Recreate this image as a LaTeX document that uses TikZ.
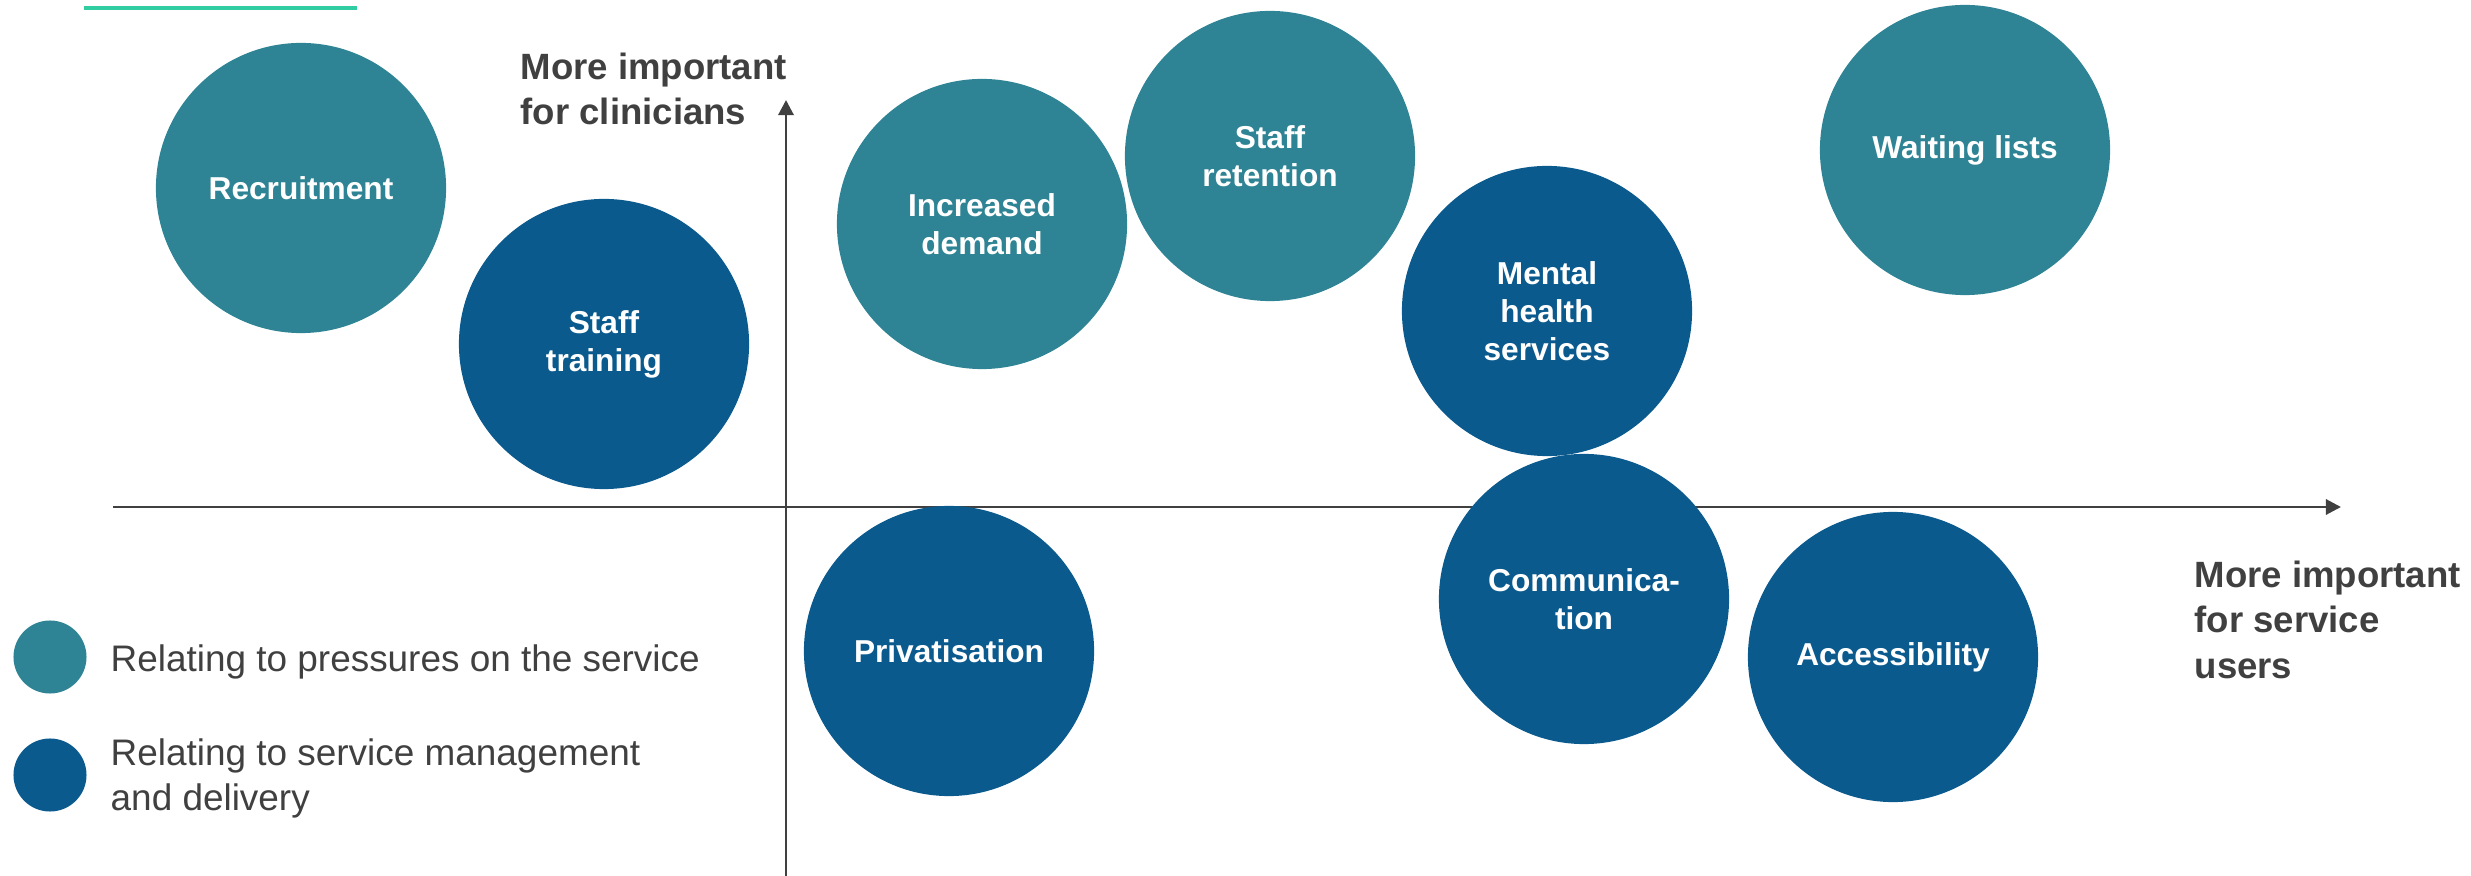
\documentclass[tikz,border=0pt]{standalone}
\usepackage{fontspec}
\setmainfont{Liberation Sans}
\usetikzlibrary{arrows.meta}
\definecolor{bubTeal}{HTML}{2E8494}
\definecolor{bubBlue}{HTML}{0B5A8E}
\definecolor{axGray}{HTML}{404040}
\definecolor{lineMint}{HTML}{30CCA2}

\begin{document}
\begin{tikzpicture}[
  x=0.01cm, y=-0.01cm,
  bubble/.style={
    circle, fill=#1, minimum size=2.9cm, inner sep=0pt,
    text=white, font=\fontsize{9}{10.8}\selectfont\bfseries, align=center,
  },
  keydot/.style={circle, fill=#1, minimum size=0.73cm, inner sep=0pt},
  axis/.style={-{Triangle[length=4.3pt, width=4.3pt]}, line width=0.85pt, color=axGray},
  axlab/.style={font=\fontsize{10.4}{13}\selectfont\bfseries, text=axGray, align=left, inner sep=0pt},
  keylab/.style={font=\fontsize{10.5}{12.7}\selectfont, text=axGray, align=left, inner sep=0pt},
]
\useasboundingbox (0,0) rectangle (2471,876);

% Accent rule
\draw[lineMint, line width=1pt] (84,8) -- (357,8);

% Axes
\coordinate (xs) at (113,507);
\coordinate (xe) at (2341,507);
\coordinate (ys) at (786,876);
\coordinate (ye) at (786,100);
\draw[axis] (xs) -- (xe);
\draw[axis] (ys) -- (ye);

\node[axlab, anchor=north west] (ylab) at (520,52) {More important\\for clinicians};
\node[axlab, anchor=north west] (xlab) at (2194,560) {More important\\for service\\users};

% Bubbles
\node[bubble=bubTeal] (recruit) at (301,188) {Recruitment};
\node[bubble=bubBlue] (training) at (604,344) {Staff\\training};
\node[bubble=bubTeal] (demand) at (982,224) {Increased\\demand};
\node[bubble=bubTeal] (retain) at (1270,156) {Staff\\retention};
\node[bubble=bubBlue] (mental) at (1547,311) {Mental\\health\\services};
\node[bubble=bubTeal] (waiting) at (1965,150) {Waiting lists};
\node[bubble=bubBlue] (private) at (949,651) {Privatisation};
\node[bubble=bubBlue] (comms) at (1584,599) {Communica-\\tion};
\node[bubble=bubBlue] (access) at (1893,657) {Accessibility};

% Key
\node[keydot=bubTeal] (k1) at (50,657) {};
\node[keydot=bubBlue] (k2) at (50,775) {};
\node[keylab, anchor=base west] (k1lab) at (110,671) {Relating to pressures on the service};
\node[keylab, anchor=north west] (k2lab) at (110,738) {Relating to service management\\and delivery};

\end{tikzpicture}
\end{document}
